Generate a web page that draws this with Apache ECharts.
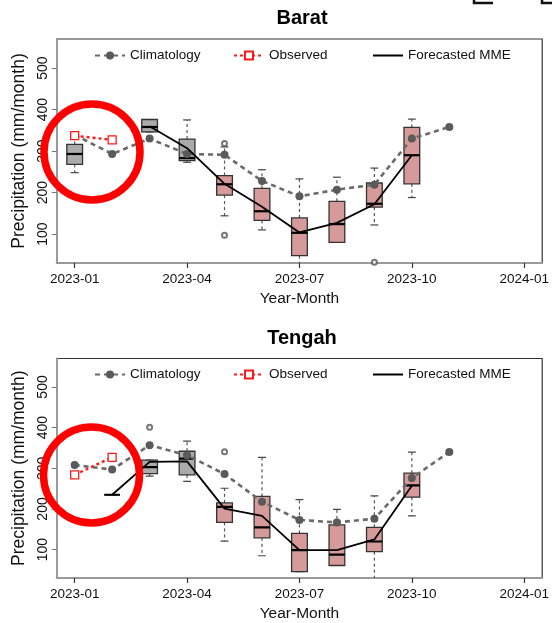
<!DOCTYPE html>
<html><head><meta charset="utf-8">
<script src="https://cdn.jsdelivr.net/npm/echarts@6/dist/echarts.min.js"></script>
<style>html,body{margin:0;padding:0;background:#fff}#c{width:552px;height:623px}</style>
</head><body><div id="c"></div>
<script>
// ---- data ----
const tickValues = [0, 3, 6, 9, 12];
const tickLabels = ['2023-01', '2023-04', '2023-07', '2023-10', '2024-01'];
const yTickValues = [100, 200, 300, 400, 500];
const monthIdx = [0, 1, 2, 3, 4, 5, 6, 7, 8, 9, 10, 11];
const panelTitles = ['Barat', 'Tengah'];

const baratClim = [339, 293, 330, 293, 291, 228, 191, 207, 219, 330, 358, null];
const baratObs = [337, 327, null, null, null, null, null, null, null, null, null, null];
const baratMME = [null, null, 360, 307, 221, 166, 104, 127, 172, 290, null, null];
// [month, lowWhisker, q1, median, q3, highWhisker, group(0 gray,1 pink)]
const baratBoxes = [
  [0, 248, 268, 293, 316, 338, 0],
  [2, 346, 346, 358, 376, 376, 0],
  [3, 273, 277, 283, 329, 375, 0],
  [4, 144, 194, 220, 241, 310, 1],
  [5, 110, 133, 155, 210, 255, 1],
  [6, 20, 48, 103, 139, 233, 1],
  [7, 80, 80, 124, 179, 237, 1],
  [8, 122, 165, 173, 223, 259, 1],
  [9, 188, 221, 290, 357, 377, 1]
];
const baratOutliers = [[4, 318], [4, 97], [8, 32]];

const tengahClim = [308, 297, 357, 332, 286, 218, 173, 167, 176, 276, 340, null];
const tengahObs = [284, 327, null, null, null, null, null, null, null, null, null, null];
const tengahMME = [null, 235, 316, 317, 201, 183, 99, 99, 125, 257, null, null];
const tengahBoxes = [
  [1, 235, 235, 235, 235, 235, 0],
  [2, 281, 287, 303, 320, 320, 0],
  [3, 268, 284, 324, 342, 367, 0],
  [4, 121, 167, 205, 215, 251, 1],
  [5, 85, 129, 155, 231, 327, 1],
  [6, 46, 46, 99, 140, 223, 1],
  [7, 61, 61, 88, 161, 199, 1],
  [8, 20, 95, 120, 155, 232, 1],
  [9, 183, 229, 258, 288, 340, 1]
];
const tengahOutliers = [[2, 401], [4, 341]];

// ---- styling ----
const FONT = '"Liberation Sans", Arial, sans-serif';
const boxFill = ['#ababab', '#d69a9a'];

const pair = (arr) => monthIdx.map((m, i) => [m, arr[i]]);

function renderBox(params, api) {
  const x = api.value(0);
  const lo = api.coord([x, api.value(1)]);
  const q1 = api.coord([x, api.value(2)]);
  const md = api.coord([x, api.value(3)]);
  const q3 = api.coord([x, api.value(4)]);
  const hi = api.coord([x, api.value(5)]);
  const w = api.size([0.42, 0])[0];
  const cx = lo[0];
  const g = api.value(6);
  const wh = { stroke: '#555', lineWidth: 1.2, lineDash: [3, 3] };
  const cap = { stroke: '#444', lineWidth: 1.2 };
  return {
    type: 'group',
    children: [
      { type: 'line', shape: { x1: cx, y1: q3[1], x2: cx, y2: hi[1] }, style: wh },
      { type: 'line', shape: { x1: cx, y1: q1[1], x2: cx, y2: lo[1] }, style: wh },
      { type: 'line', shape: { x1: cx - w / 4, y1: hi[1], x2: cx + w / 4, y2: hi[1] }, style: cap },
      { type: 'line', shape: { x1: cx - w / 4, y1: lo[1], x2: cx + w / 4, y2: lo[1] }, style: cap },
      { type: 'rect', shape: { x: cx - w / 2, y: q3[1], width: w, height: q1[1] - q3[1] },
        style: { fill: boxFill[g], stroke: '#333', lineWidth: 1.3 } },
      { type: 'line', shape: { x1: cx - w / 2, y1: md[1], x2: cx + w / 2, y2: md[1] },
        style: { stroke: '#000', lineWidth: 2.2 } }
    ]
  };
}

const grids = [
  { left: 56.7, right: 5.5, top: 39, height: 224 },
  { left: 56.7, right: 5.5, top: 358.5, height: 224 }
];

const xAxes = [0, 1].map(i => ({
  gridIndex: i, type: 'value', min: -0.48, max: 12.48,
  splitLine: { show: false },
  axisLine: { show: true, onZero: false, lineStyle: { color: '#9a9a9a', width: 2 } },
  axisTick: { show: true, customValues: tickValues, length: 5, lineStyle: { color: '#333', width: 1.2 } },
  axisLabel: { customValues: tickValues, margin: 9, color: '#111', fontFamily: FONT, fontSize: 13.5,
    formatter: v => tickLabels[tickValues.indexOf(v)] },
  name: 'Year-Month', nameLocation: 'middle', nameGap: 28,
  nameTextStyle: { color: '#111', fontFamily: FONT, fontSize: 15.5 }
}));

const yAxes = [0, 1].map(i => ({
  gridIndex: i, type: 'value', min: 30.3, max: 570,
  splitLine: { show: false },
  axisLine: { show: true, onZero: false, lineStyle: { color: '#9a9a9a', width: 2 } },
  axisTick: { show: true, customValues: yTickValues, length: 5, lineStyle: { color: '#777', width: 1 } },
  axisLabel: { customValues: yTickValues, rotate: 90, margin: 7, color: '#111',
    fontFamily: FONT, fontSize: 14 },
  name: 'Precipitation (mm/month)', nameLocation: 'middle', nameRotate: 90, nameGap: 23,
  nameTextStyle: { color: '#111', fontFamily: FONT, fontSize: 17.5 }
}));

function panelSeries(i, clim, obs, mme, boxes, outl) {
  return [
    { type: 'custom', name: 'box' + i, xAxisIndex: i, yAxisIndex: i, clip: true,
      renderItem: renderBox, data: boxes, z: 2, silent: true },
    { type: 'scatter', name: 'out' + i, xAxisIndex: i, yAxisIndex: i, clip: true,
      data: outl, symbol: 'emptyCircle', symbolSize: 5,
      itemStyle: { color: '#555', borderColor: '#555', borderWidth: 1 }, z: 3 },
    { type: 'line', name: 'Climatology', xAxisIndex: i, yAxisIndex: i, data: pair(clim),
      symbol: 'circle', symbolSize: 8, connectNulls: false,
      itemStyle: { color: '#5a5a5a' },
      lineStyle: { color: '#6a6a6a', width: 2.6, type: [5, 4] }, z: 4 },
    { type: 'line', name: 'Observed', xAxisIndex: i, yAxisIndex: i, data: pair(obs),
      symbol: 'rect', symbolSize: 8,
      itemStyle: { color: '#fff', borderColor: '#ff1a1a', borderWidth: 1.3 },
      lineStyle: { color: '#ff1a1a', width: 2.4, type: [3, 3] }, z: 5 },
    { type: 'line', name: 'Forecasted MME', xAxisIndex: i, yAxisIndex: i, data: pair(mme),
      symbol: 'none', itemStyle: { color: '#000' }, lineStyle: { color: '#000', width: 1.8 }, z: 6 }
  ];
}

const legendPos = [
  { name: 'Climatology', left: 94 },
  { name: 'Observed', left: 233 },
  { name: 'Forecasted MME', left: 372 }
];
const legends = [];
[48.5, 367.5].forEach(top => legendPos.forEach(p => legends.push({
  top: top, left: p.left, padding: 0, itemWidth: 30, itemHeight: 10,
  data: [p.name === 'Forecasted MME' ? { name: p.name, itemStyle: { opacity: 0 } } : p.name],
  selectedMode: false,
  textStyle: { color: '#111', fontFamily: FONT, fontSize: 13.5 }
})));

const chart = echarts.init(document.getElementById('c'), null, { renderer: 'canvas' });
chart.setOption({
  animation: false,
  backgroundColor: '#fff',
  title: panelTitles.map((t, i) => ({
    text: t, left: 302, top: i === 0 ? 8.5 : 328, textAlign: 'center', padding: 0,
    textStyle: { fontFamily: FONT, fontWeight: 'bold', fontSize: 20, color: '#000' }
  })),
  grid: grids.map(g => Object.assign({ show: true, borderColor: '#333', borderWidth: 1.2, backgroundColor: 'transparent' }, g)),
  legend: legends,
  xAxis: xAxes,
  yAxis: yAxes,
  series: [].concat(
    panelSeries(0, baratClim, baratObs, baratMME, baratBoxes, baratOutliers),
    panelSeries(1, tengahClim, tengahObs, tengahMME, tengahBoxes, tengahOutliers)
  ),
  graphic: [
    { type: 'circle', shape: { cx: 92, cy: 152, r: 48 }, style: { fill: 'none', stroke: '#ff0000', lineWidth: 7.5 }, z: 100 },
    { type: 'circle', shape: { cx: 91.5, cy: 475, r: 48 }, style: { fill: 'none', stroke: '#ff0000', lineWidth: 7.5 }, z: 100 },
    { type: 'polyline', shape: { points: [[474, -2], [474, 3], [493, 3]] }, style: { fill: 'none', stroke: '#111', lineWidth: 2.5 } },
    { type: 'polyline', shape: { points: [[542, -2], [542, 3], [553, 3]] }, style: { fill: 'none', stroke: '#111', lineWidth: 2.5 } }
  ]
});
</script></body></html>
